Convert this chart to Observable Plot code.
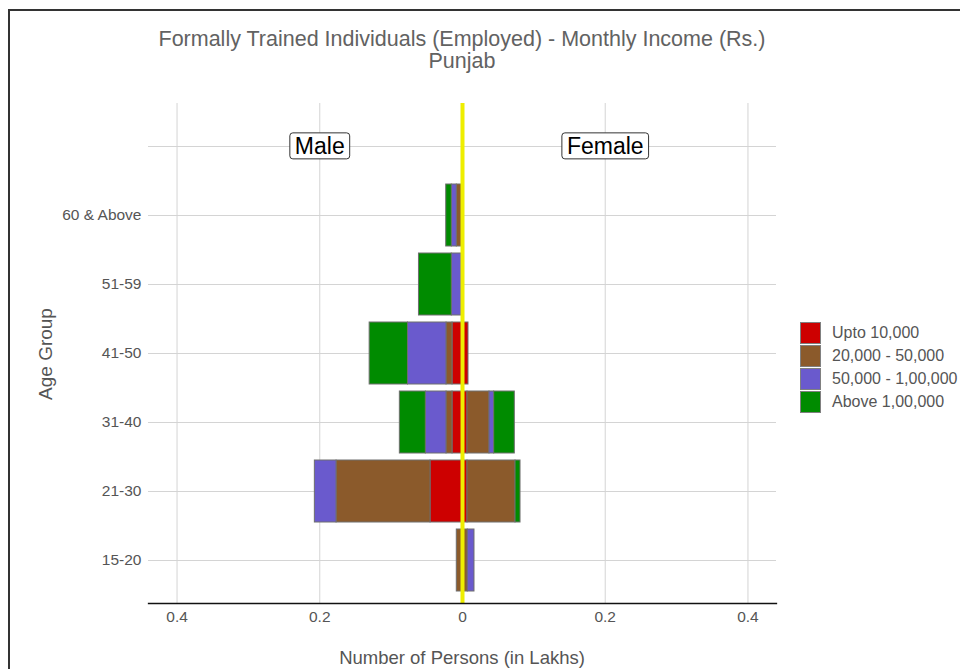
<!DOCTYPE html>
<html>
<head>
<meta charset="utf-8">
<script src="https://cdn.jsdelivr.net/npm/d3@7"></script>
<script src="https://cdn.jsdelivr.net/npm/@observablehq/plot@0.6"></script>
<style>
  html, body { margin: 0; padding: 0; background: #fff; overflow: hidden; }
  #wrap { position: relative; width: 960px; height: 669px; overflow: hidden; font-family: "Liberation Sans", Arial, sans-serif; }
  #border { position: absolute; left: 8px; top: 9px; width: 1000px; height: 700px; border: 2px solid #333; box-sizing: border-box; pointer-events: none; }
  #chart { position: absolute; left: 0; top: 0; }
  .title { position: absolute; left: 148px; width: 628px; text-align: center; color: #626262; font-size: 21.5px; line-height: 1; white-space: nowrap; }
  .axtitle { position: absolute; color: #555; font-size: 18.5px; line-height: 1; white-space: nowrap; }
  #legend { position: absolute; left: 800px; top: 321px; }
  .lrow { display: flex; align-items: center; height: 23px; }
  .sw { width: 21px; height: 22px; box-sizing: border-box; border: 1px solid #808080; margin-right: 11px; }
  .lt { font-size: 16px; color: #555; white-space: nowrap; }
</style>
</head>
<body>
<div id="wrap">
  <div id="chart"></div>
  <div class="title" id="t1" style="top:29px;"></div>
  <div class="title" id="t2" style="top:51px;"></div>
  <div class="axtitle" id="xt"></div>
  <div class="axtitle" id="yt"></div>
  <div id="legend"></div>
  <div id="border"></div>
</div>
<script>
// ---- Data ----
const titleText = "Formally Trained Individuals (Employed) - Monthly Income (Rs.)";
const subtitleText = "Punjab";
const xTitle = "Number of Persons (in Lakhs)";
const yTitle = "Age Group";

const ages = ["15-20", "21-30", "31-40", "41-50", "51-59", "60 & Above"];
const labelRow = " ";
const incomeGroups = ["Upto 10,000", "20,000 - 50,000", "50,000 - 1,00,000", "Above 1,00,000"];
const incomeColors = ["#CD0000", "#8B5A2B", "#6A5ACD", "#008B00"];

// values in lakhs, per income group, per age group (order of `ages`)
const maleUpto10k    = [0,     0.0448, 0.014,  0.014,  0,      0];
const male20to50k    = [0.008, 0.1317, 0.0084, 0.0084, 0,      0.008];
const male50kto1L    = [0,     0.0304, 0.029,  0.054,  0.015,  0.007];
const maleAbove1L    = [0,     0,      0.0364, 0.0537, 0.046,  0.0078];

const femaleUpto10k  = [0,      0.007,  0.007,  0.0084, 0, 0];
const female20to50k  = [0.0074, 0.0673, 0.0308, 0,      0, 0];
const female50kto1L  = [0.0094, 0,      0.0066, 0,      0, 0];
const femaleAbove1L  = [0,      0.007,  0.0289, 0,      0, 0];

const xTicks = [-0.4, -0.2, 0, 0.2, 0.4];
const sexLabels = ["Male", "Female"];
const sexLabelX = [-0.2, 0.2];

// ---- Build table ----
const maleValues = [maleUpto10k, male20to50k, male50kto1L, maleAbove1L];
const femaleValues = [femaleUpto10k, female20to50k, female50kto1L, femaleAbove1L];
const rows = [];
incomeGroups.forEach((g, gi) => {
  ages.forEach((a, ai) => {
    const m = maleValues[gi][ai];
    if (m > 0) rows.push({age: a, income: g, sex: "Male", value: -m});
    const f = femaleValues[gi][ai];
    if (f > 0) rows.push({age: a, income: g, sex: "Female", value: f});
  });
});
const labelRows = sexLabels.map((s, i) => ({label: s, x: sexLabelX[i], row: labelRow}));
const yDomain = [labelRow, ...ages.slice().reverse()];

const chart = Plot.plot({
  width: 960,
  height: 669,
  marginLeft: 148,
  marginRight: 184,
  marginTop: 103,
  marginBottom: 66,
  x: {domain: [-0.44, 0.44]},
  y: {type: "band", domain: yDomain, paddingInner: 0.1, paddingOuter: 0.15},
  color: {domain: incomeGroups, range: incomeColors},
  style: {fontFamily: "'Liberation Sans', Arial, sans-serif", fontSize: "16px", color: "#555", background: "transparent"},
  marks: [
    Plot.gridX(xTicks, {stroke: "#d4d4d4", strokeOpacity: 1}),
    Plot.gridY({stroke: "#d4d4d4", strokeOpacity: 1}),
    Plot.axisX(xTicks, {tickSize: 0, tickPadding: 7, label: null, fontSize: 15.5,
      tickFormat: d => d === 0 ? "0" : String(Math.abs(d))}),
    Plot.axisY({tickSize: 0, tickPadding: 7, label: null, fontSize: 15.5}),
    Plot.barX(rows, Plot.stackX({x: "value", y: "age", fill: "income", z: "income",
      stroke: "#6e6e6e", strokeWidth: 1})),
    Plot.ruleX([0], {stroke: "#EEEE00", strokeWidth: 4}),
    Plot.frame({anchor: "bottom", stroke: "#111", strokeWidth: 1.3}),
    Plot.text(labelRows, {x: "x", y: "row", text: "label", fontSize: 23, fill: "black"})
  ]
});
document.getElementById("chart").appendChild(chart);

// boxes behind the Male / Female labels
d3.select(chart).selectAll('g[aria-label="text"] text').each(function() {
  const b = this.getBBox();
  const padX = 5, padY = 0;
  const tr = this.getAttribute("transform");
  const rect = d3.select(this.parentNode).insert("rect", () => this)
    .attr("x", b.x - padX).attr("y", b.y - padY)
    .attr("width", b.width + 2 * padX).attr("height", b.height + 2 * padY)
    .attr("rx", 3).attr("ry", 3)
    .attr("fill", "white").attr("stroke", "#333").attr("stroke-width", 1);
  if (tr) rect.attr("transform", tr);
});

// titles
document.getElementById("t1").textContent = titleText;
document.getElementById("t2").textContent = subtitleText;
const xt = document.getElementById("xt");
xt.textContent = xTitle;
xt.style.left = "148px"; xt.style.width = "628px"; xt.style.textAlign = "center"; xt.style.top = "649px";
const yt = document.getElementById("yt");
yt.textContent = yTitle;
yt.style.left = "45px"; yt.style.top = "354px";
yt.style.transform = "translate(-50%, -50%) rotate(-90deg)";
yt.style.fontSize = "19px";

// legend
const legend = d3.select("#legend");
incomeGroups.forEach((g, i) => {
  const r = legend.append("div").attr("class", "lrow");
  r.append("div").attr("class", "sw").style("background", incomeColors[i]);
  r.append("div").attr("class", "lt").text(g);
});
</script>
</body>
</html>
